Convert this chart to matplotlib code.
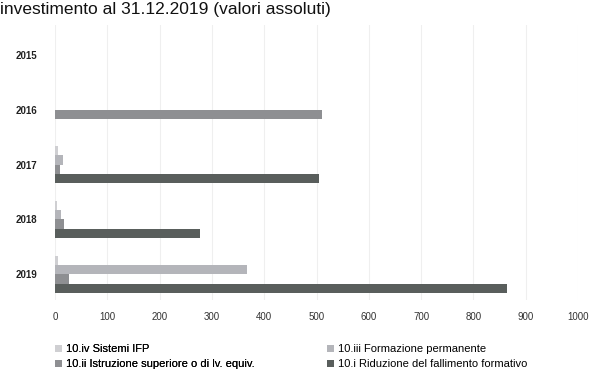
import matplotlib
matplotlib.use("Agg")
import matplotlib.pyplot as plt
from matplotlib.patches import Patch
import numpy as np

plt.rcParams['font.family'] = ['Liberation Sans Narrow', 'Liberation Sans', 'DejaVu Sans']

years = ["2015", "2016", "2017", "2018", "2019"]
series_names = [
    "10.iv Sistemi IFP",
    "10.iii Formazione permanente",
    "10.ii Istruzione superiore o di lv. equiv.",
    "10.i Riduzione del fallimento formativo",
]
sistemi_ifp = [0, 0, 6, 4, 5]
formazione_permanente = [0, 0, 16, 12, 367]
istruzione_superiore = [0, 510, 10, 17, 27]
riduzione_fallimento = [0, 0, 505, 277, 865]
series_values = [sistemi_ifp, formazione_permanente, istruzione_superiore, riduzione_fallimento]
colors = ["#cfcfd2", "#b4b5ba", "#8e8f92", "#595e5c"]
x_ticks = [0, 100, 200, 300, 400, 500, 600, 700, 800, 900, 1000]
title = "investimento al 31.12.2019 (valori assoluti)"

fig = plt.figure(figsize=(5.94, 3.72), dpi=100)
ax = fig.add_axes([55 / 594, 1 - 300 / 372, 523 / 594, 275 / 372])

pos = np.arange(len(years))
h = 0.17
offsets = [-1.5, -0.5, 0.5, 1.5]
for vals, off, c in zip(series_values, offsets, colors):
    ax.barh(pos + off * h, vals, height=h, color=c, edgecolor="none", zorder=3)

ax.set_ylim(4.47, -0.55)
ax.set_xlim(0, 1000)
ax.set_yticks(pos)
ax.set_yticklabels(years, fontsize=7, fontweight="bold", color="#222222")
ax.set_xticks(x_ticks)
ax.set_xticklabels([str(t) for t in x_ticks], fontsize=7, color="#333333")
ax.tick_params(axis="both", length=0)
ax.tick_params(axis="y", pad=13)
ax.tick_params(axis="x", pad=9)
for s in ax.spines.values():
    s.set_visible(False)
ax.grid(axis="x", color="#efefef", linewidth=0.8, zorder=0)

fig.text(0.0, 1 - 14 / 372, title, fontsize=12.5, color="#111111",
         family=['Liberation Sans', 'DejaVu Sans'], va="baseline", ha="left")

handles = [Patch(facecolor=c, edgecolor="none") for c in colors]
legend_kw = dict(loc="upper left", frameon=False, fontsize=8, handlelength=0.6,
                 handleheight=0.6, handletextpad=0.4, labelspacing=0.45,
                 borderaxespad=0, borderpad=0)
leg1 = fig.legend([handles[0], handles[2]], [series_names[0], series_names[2]],
                  bbox_to_anchor=(55 / 594, 1 - 344 / 372), **legend_kw)
fig.add_artist(leg1)
fig.legend([handles[1], handles[3]], [series_names[1], series_names[3]],
           bbox_to_anchor=(327 / 594, 1 - 344 / 372), **legend_kw)

fig.savefig("out.png", dpi=100)
